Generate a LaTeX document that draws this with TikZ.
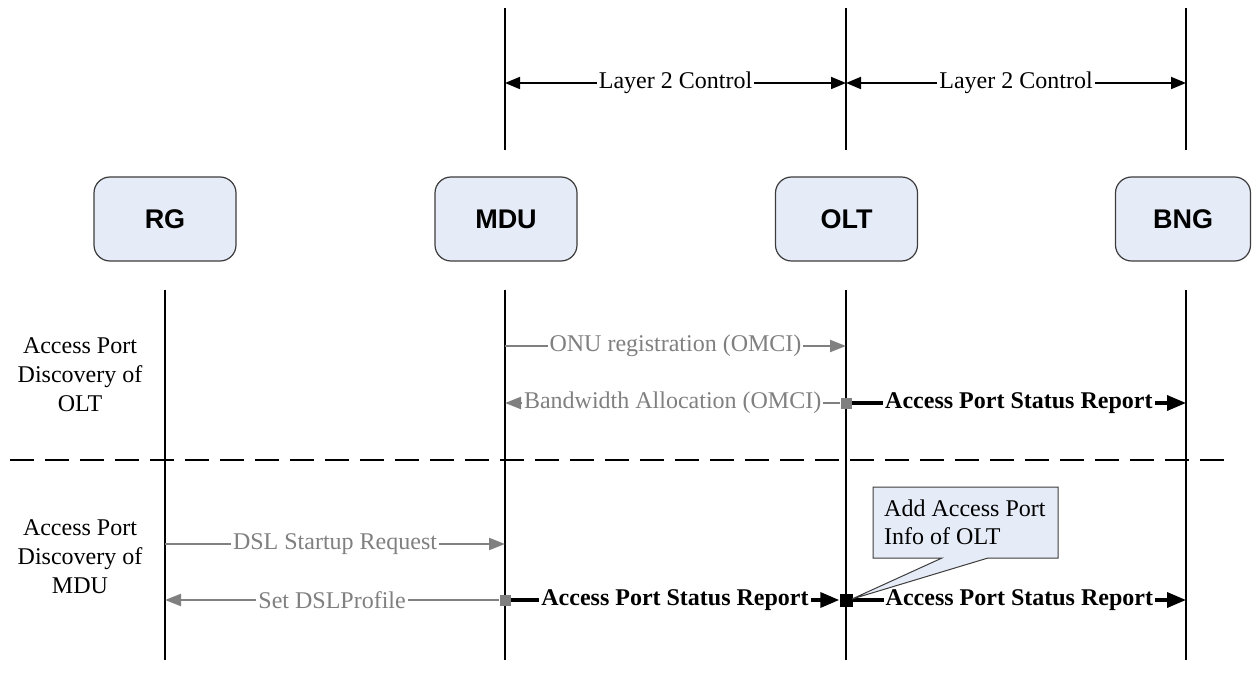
\documentclass[tikz,border=0pt]{standalone}
\usepackage{fontspec}
\setmainfont{Liberation Serif}
\newfontfamily\boxfont{Liberation Sans}
\usetikzlibrary{arrows.meta}
\definecolor{msggray}{RGB}{128,128,128}
\definecolor{boxfill}{RGB}{230,236,247}
\definecolor{boxdraw}{RGB}{60,60,60}
\begin{document}
\begin{tikzpicture}[x=1pt,y=-1pt,
  life/.style={line width=2.2pt,black},
  entity/.style={draw=boxdraw,line width=1.2pt,fill=boxfill,rounded corners=16pt,
    minimum width=142pt,minimum height=84pt,inner sep=0pt,
    font=\boxfont\bfseries\fontsize{27}{32}\selectfont},
  ctrl/.style={line width=1.8pt,black,{Triangle[length=15pt,width=12pt]}-{Triangle[length=15pt,width=12pt]}},
  gmsg/.style={line width=2.2pt,msggray,-{Triangle[length=16pt,width=12pt]}},
  bmsg/.style={line width=3.5pt,black,-{Triangle[length=19pt,width=15pt]}},
  lbl/.style={fill=white,inner sep=2pt,font=\fontsize{24}{29}\selectfont,text=black},
  glbl/.style={fill=white,inner sep=2pt,font=\fontsize{24}{29}\selectfont,text=msggray},
  blbl/.style={fill=white,inner sep=2pt,font=\bfseries\fontsize{24}{29}\selectfont,text=black},
  side/.style={align=center,inner sep=0pt,font=\fontsize{24}{29}\selectfont},
  gsq/.style={fill=msggray,minimum size=11pt,inner sep=0pt},
  bsq/.style={fill=black,minimum size=13pt,inner sep=0pt},
  sep/.style={line width=2pt,black,dash pattern=on 24pt off 11pt}
]
\useasboundingbox (0,0) rectangle (1252,684);

% entity boxes
\node[entity] (rg) at (165,219) {RG};
\node[entity] (mdu) at (506,219) {MDU};
\node[entity] (olt) at (846.5,219) {OLT};
\node[entity,minimum width=135pt] (bng) at (1183,219) {BNG};

% lifeline coordinates
\coordinate (mduT) at (505,8);   \coordinate (mduTb) at (505,150);
\coordinate (oltT) at (846,8);   \coordinate (oltTb) at (846,150);
\coordinate (bngT) at (1186,8);  \coordinate (bngTb) at (1186,150);
\coordinate (rgB) at (165,290);  \coordinate (rgBb) at (165,660);
\coordinate (mduB) at (505,290); \coordinate (mduBb) at (505,660);
\coordinate (oltB) at (846,290); \coordinate (oltBb) at (846,660);
\coordinate (bngB) at (1186,290);\coordinate (bngBb) at (1186,660);

\draw[life] (mduT) -- (mduTb);
\draw[life] (oltT) -- (oltTb);
\draw[life] (bngT) -- (bngTb);
\draw[life] (rgB) -- (rgBb);
\draw[life] (mduB) -- (mduBb);
\draw[life] (oltB) -- (oltBb);
\draw[life] (bngB) -- (bngBb);

% Layer 2 control
\coordinate (l2a) at (505,83);
\coordinate (l2b) at (846,83);
\coordinate (l2c) at (1186,83);
\draw[ctrl] (l2a) -- node[lbl] {Layer 2 Control} (l2b);
\draw[ctrl] (l2b) -- node[lbl] {Layer 2 Control} (l2c);

% separator
\coordinate (dl) at (10,460);
\coordinate (dr) at (1232,460);
\draw[sep] (dl) -- (dr);

% side labels
\node[side] (s1) at (80,375) {Access Port\\Discovery of\\OLT};
\node[side] (s2) at (80,557) {Access Port\\Discovery of\\MDU};

% OLT discovery messages
\coordinate (m346) at (505,346);
\coordinate (o346) at (846,346);
\draw[gmsg] (m346) -- node[glbl] {ONU registration (OMCI)} (o346);

\coordinate (m403) at (505,403);
\coordinate (b403) at (1186,403);
\node[gsq] (sq1) at (846,403) {};
\draw[gmsg] (sq1.west) -- node[glbl] {Bandwidth Allocation (OMCI)} (m403);
\draw[bmsg] (sq1.east) -- node[blbl] {Access Port Status Report} (b403);

% MDU discovery messages
\coordinate (r544) at (165,544);
\coordinate (m544) at (505,544);
\draw[gmsg] (r544) -- node[glbl] {DSL Startup Request} (m544);

\coordinate (r600) at (165,600);
\coordinate (b600) at (1186,600);
\node[gsq] (sq2) at (505,600) {};
\node[bsq] (sq3) at (846,600) {};
\draw[gmsg] (sq2.west) -- node[glbl] {Set DSLProfile} (r600);
\draw[bmsg] (sq2.east) -- node[blbl] {Access Port Status Report} (sq3.west);
\draw[bmsg] (sq3.east) -- node[blbl] {Access Port Status Report} (b600);

% callout
\coordinate (tip) at (852,599);
\draw[boxdraw,line width=1pt,fill=boxfill]
  (873,487) -- (1058,487) -- (1058,558) -- (988,558) -- (tip) -- (942,558) -- (873,558) -- cycle;
\node[anchor=west,align=left,inner sep=0pt,font=\fontsize{24}{28}\selectfont] (note) at (884,522) {Add Access Port\\Info of OLT};
\end{tikzpicture}
\end{document}
